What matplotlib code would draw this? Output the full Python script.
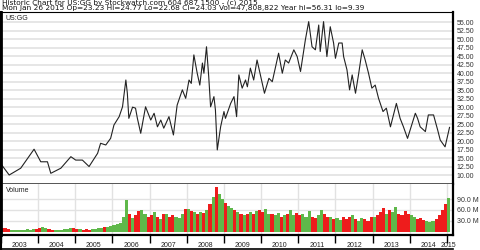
import numpy as np
import matplotlib
matplotlib.use("Agg")
from matplotlib import pyplot as plt
from matplotlib.lines import Line2D

plt.rcParams["font.family"] = ["Liberation Sans", "DejaVu Sans"]

# weekly-ish closing prices (decimal year, price)
price_t = [2003.02, 2003.22, 2003.53, 2003.89, 2004.07, 2004.25, 2004.34, 2004.61, 2004.88, 2005.01,
           2005.19, 2005.37, 2005.60, 2005.68, 2005.82, 2005.95, 2006.04, 2006.18, 2006.27, 2006.36,
           2006.40, 2006.44, 2006.54, 2006.62, 2006.67, 2006.76, 2006.89, 2007.03, 2007.12, 2007.21,
           2007.30, 2007.38, 2007.52, 2007.64, 2007.74, 2007.88, 2007.97, 2008.06, 2008.12, 2008.19,
           2008.28, 2008.35, 2008.42, 2008.46, 2008.53, 2008.59, 2008.64, 2008.73, 2008.77, 2008.82,
           2008.91, 2009.00, 2009.04, 2009.18, 2009.27, 2009.34, 2009.40, 2009.49, 2009.58, 2009.63,
           2009.71, 2009.80, 2009.89, 2009.98, 2010.09, 2010.21, 2010.30, 2010.47, 2010.57, 2010.65,
           2010.74, 2010.88, 2010.97, 2011.06, 2011.15, 2011.19, 2011.28, 2011.37, 2011.46, 2011.55,
           2011.59, 2011.68, 2011.77, 2011.86, 2011.95, 2012.00, 2012.09, 2012.18, 2012.22, 2012.31,
           2012.38, 2012.45, 2012.54, 2012.62, 2012.72, 2012.80, 2012.89, 2012.98, 2013.07, 2013.16,
           2013.28, 2013.37, 2013.48, 2013.64, 2013.74, 2013.83, 2013.94, 2014.15, 2014.21, 2014.28,
           2014.42, 2014.50, 2014.64, 2014.75, 2014.82, 2014.95, 2015.07]
price = [12.95, 10.0, 12.0, 17.6, 13.9, 13.9, 10.5, 12.0, 15.4, 14.4,
         14.4, 12.5, 16.4, 19.35, 18.85, 20.8, 24.75, 27.2, 30.1, 38.0,
         34.1, 26.7, 30.0, 29.7, 26.7, 22.3, 30.1, 26.2, 28.2, 24.2,
         26.2, 23.8, 27.2, 21.8, 30.6, 35.1, 32.6, 38.0, 37.0, 45.4,
         40.0, 36.5, 43.0, 40.0, 47.8, 39.0, 30.1, 33.1, 29.2, 17.4,
         24.2, 28.7, 26.7, 31.1, 33.1, 27.2, 39.5, 35.6, 38.0, 36.0,
         41.5, 38.0, 43.9, 39.5, 34.1, 38.5, 37.5, 45.9, 40.0, 43.9,
         43.0, 46.9, 44.9, 40.5, 46.9, 49.8, 55.2, 47.8, 46.9, 54.2,
         46.4, 55.2, 44.9, 53.7, 48.9, 44.4, 48.9, 48.9, 44.9, 41.0,
         35.1, 39.5, 34.1, 39.5, 46.9, 43.9, 40.0, 35.6, 36.5, 32.6,
         28.7, 29.7, 24.2, 31.1, 26.7, 24.2, 20.8, 28.2, 26.7, 24.2,
         22.8, 27.7, 27.7, 23.3, 20.3, 18.3, 24.03]

# monthly volume in millions, Jan 2003 .. Jan 2015
volume = [11, 10, 7, 5, 5, 6, 5, 6, 7, 6, 8, 9,
          12, 14, 10, 7, 6, 5, 5, 6, 7, 8, 10, 12,
          8, 7, 6, 7, 6, 8, 9, 10, 12, 14, 13, 16,
          18, 22, 25, 40, 88, 50, 38, 45, 57, 61, 48, 42,
          45, 55, 40, 35, 50, 48, 42, 45, 40, 38, 50, 62,
          62, 58, 55, 50, 55, 52, 60, 75, 95, 123, 105, 90,
          80, 70, 65, 60, 55, 50, 45, 48, 55, 50, 58, 60,
          55, 62, 50, 48, 45, 52, 40, 45, 50, 60, 45, 52,
          45, 50, 40, 58, 42, 38, 45, 60, 48, 40, 42, 35,
          38, 32, 42, 35, 40, 45, 35, 30, 38, 35, 30, 40,
          42, 45, 55, 65, 50, 60, 55, 68, 50, 45, 58, 48,
          45, 40, 35, 38, 32, 30, 28, 30, 35, 45, 60, 75,
          93]

years = list(range(2003, 2016))
year_labels = [str(y) for y in years]
price_ticks = [10 + 2.5 * i for i in range(19)]
vol_ticks = [30, 60, 90]

header1 = "Historic Chart for US:GG by Stockwatch.com 604 687 1500 - (c) 2015"
header2 = ("Mon Jan 26 2015 Op=23.23 Hi=24.77 Lo=22.68 Cl=24.03 "
           "Vol=47,808,822 Year hi=56.31 lo=9.39")

W, H = 480, 250
fig = plt.figure(figsize=(4.8, 2.5), dpi=100)
fig.patch.set_facecolor("white")


def box(x0, y0, x1, y1):
    # pixel box (top-left origin) -> figure fraction rect
    return [x0 / W, 1 - y1 / H, (x1 - x0) / W, (y1 - y0) / H]


xmin, xmax = 2003.02, 2015.15

# price panel
ax = fig.add_axes(box(1, 12, 452.5, 184))
ax.plot(price_t, price, color="#222222", lw=0.8)
ax.set_xlim(xmin, xmax)
ax.set_ylim(7.35, 58.04)
ax.set_yticks(price_ticks)
ax.set_yticklabels(["%.2f" % v for v in price_ticks])
ax.yaxis.tick_right()
ax.tick_params(axis="y", length=0, pad=3, labelsize=5, labelcolor="#333333")
ax.set_xticks(years)
ax.tick_params(axis="x", length=0, labelbottom=False)
ax.grid(axis="y", color="#e2e2e2", lw=1.2)
ax.set_axisbelow(True)
ax.spines["left"].set_linewidth(2)
ax.spines["right"].set_linewidth(1.6)
ax.spines["top"].set_linewidth(0.8)
ax.spines["bottom"].set_color("#555555")
ax.spines["bottom"].set_linewidth(1.4)
ax.text(0.01, 0.965, "US:GG", transform=ax.transAxes, fontsize=5, va="center", color="#222222")

# volume panel, bar colour from the price move over the month
vx = [2003 + (m + 0.5) / 12 for m in range(len(volume))]
pt = np.interp(vx, price_t, price)
pt_prev = np.interp(np.array(vx) - 1 / 24, price_t, price)
colors = ["#5fb84a" if a >= b else "#ee1c1c" for a, b in zip(pt, pt_prev)]

vax = fig.add_axes(box(1, 184, 452.5, 234.5))
vax.bar(vx, volume, width=1 / 12, color=colors, linewidth=0)
vax.set_xlim(xmin, xmax)
vax.set_ylim(-7, 131)
vax.set_yticks(vol_ticks)
vax.set_yticklabels(["%.1f M" % v for v in vol_ticks])
vax.yaxis.tick_right()
vax.tick_params(axis="y", length=0, pad=3, labelsize=5, labelcolor="#333333")
vax.grid(color="#e2e2e2", lw=1.0)
vax.set_axisbelow(True)
vax.set_xticks(years)
vax.set_xticklabels([])
vax.tick_params(axis="x", which="major", direction="out", length=6, width=1, color="black")
vax.set_xticks([y + 0.5 for y in years[:-1]] + [2015.03], minor=True)
vax.set_xticklabels(year_labels, minor=True)
vax.tick_params(axis="x", which="minor", length=0, pad=5.5, labelsize=5, labelcolor="#222222")
vax.spines["left"].set_linewidth(2)
vax.spines["right"].set_linewidth(1.6)
vax.spines["top"].set_visible(False)
vax.spines["bottom"].set_linewidth(1.6)
vax.text(0.01, 0.87, "Volume", transform=vax.transAxes, fontsize=5, va="center", color="#222222")

# outer border around the date row
fig.add_artist(Line2D([1 / W, 1 / W], [0, 1 - 12 / H], color="black", lw=1.5))
fig.add_artist(Line2D([0, 452.5 / W], [1 - 249 / H, 1 - 249 / H], color="black", lw=1.2))

# header, two lines in one text block
fig.text(2 / W, 1 + 0.6 / H, header1 + "\n" + header2, fontsize=5.3, family="DejaVu Sans",
         va="top", linespacing=0.78, color="#111111")

fig.savefig("out.png", dpi=100, facecolor="white")
